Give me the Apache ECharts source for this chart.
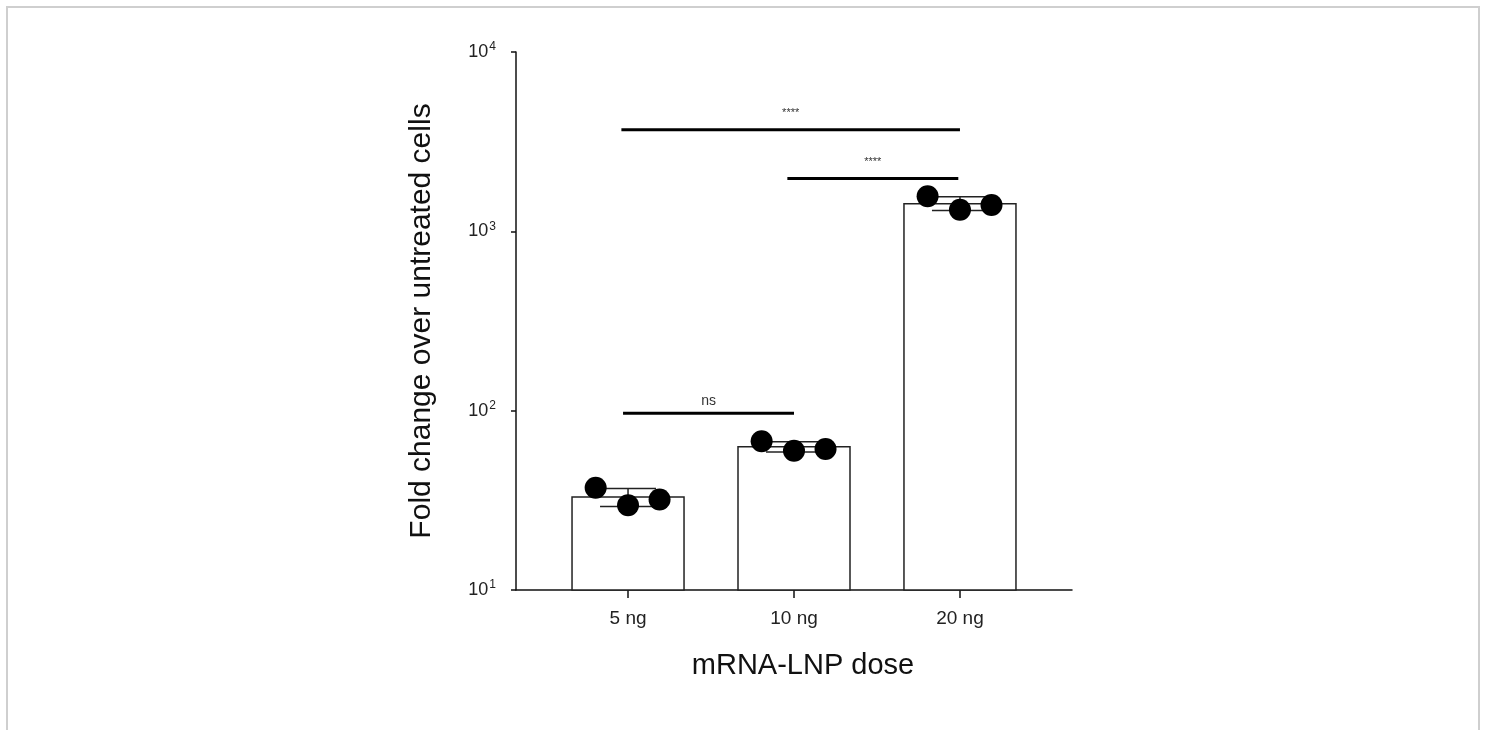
<!DOCTYPE html>
<html>
<head>
<meta charset="utf-8">
<script src="https://cdn.jsdelivr.net/npm/echarts@6/dist/echarts.min.js"></script>
<style>
    body { margin: 0; background: #fff; }
    #frame { position: absolute; left: 6px; top: 6px; width: 1470px; height: 760px; border: 2px solid #cfcfcf; }
    #main { position: absolute; left: 0; top: 0; width: 1485px; height: 730px; }
</style>
</head>
<body>
<div id="frame"></div>
<div id="main"></div>
<script>
// groups on the x axis
let doses = ['5 ng', '10 ng', '20 ng'];
let dosePos = [1, 2, 3];
// bar heights (mean) and error bars (mean - SD, mean + SD)
let barMeans = [33, 63, 1425];
let errLow = [29.2, 58.8, 1305];
let errHigh = [36.8, 67.2, 1560];
// replicate points, shifted left/centre/right inside each bar
let pointOffsets = [-0.195, 0, 0.19];
let points5 = [37.2, 29.7, 32.0];
let points10 = [67.5, 59.8, 61.1];
let points20 = [1569, 1318, 1404];
// significance brackets
let sigFrom = [0.96, 1.96, 0.97];
let sigTo = [3, 2.99, 2];
let sigY = [3680, 1970, 96.7];
let sigText = ['****', '****', 'ns'];

let allPoints = [points5, points10, points20];
let scatterData = [];
allPoints.forEach((grp, i) => {
    grp.forEach((v, j) => {
        scatterData.push([dosePos[i] + pointOffsets[j], v]);
    });
});

let myChart = echarts.init(document.getElementById('main'));

let option = {
    backgroundColor: 'transparent',
    animation: false,
    grid: { left: 516, right: 413, top: 52, bottom: 140 },
    xAxis: {
        type: 'value',
        min: 0.325,
        max: 3.675,
        name: 'mRNA-LNP dose',
        nameLocation: 'middle',
        nameGap: 61,
        nameTextStyle: { fontSize: 29, color: '#111', fontFamily: 'Liberation Sans', padding: [0, 0, 0, 18] },
        axisLine: { lineStyle: { color: '#111', width: 1.5 } },
        axisTick: { customValues: dosePos, length: 8, lineStyle: { color: '#111', width: 1.5 } },
        axisLabel: {
            customValues: dosePos,
            formatter: v => doses[dosePos.indexOf(v)],
            fontSize: 19,
            color: '#222',
            fontFamily: 'Liberation Sans',
            margin: 19
        },
        splitLine: { show: false }
    },
    yAxis: {
        type: 'log',
        logBase: 10,
        min: 10,
        max: 10000,
        name: 'Fold change over untreated cells',
        nameLocation: 'middle',
        nameGap: 79,
        nameTextStyle: { fontSize: 30, color: '#111', fontFamily: 'Liberation Sans' },
        axisLine: { show: true, lineStyle: { color: '#111', width: 1.5 } },
        axisTick: { show: true, length: 5, lineStyle: { color: '#111', width: 1.5 } },
        minorTick: { show: false },
        splitLine: { show: false },
        axisLabel: {
            margin: 20,
            formatter: v => {
                let e = Math.round(Math.log10(v));
                return '{b|10}{s|' + e + '}';
            },
            rich: {
                b: { fontSize: 18, color: '#222', fontFamily: 'Liberation Sans' },
                s: { fontSize: 12, color: '#222', fontFamily: 'Liberation Sans', verticalAlign: 'top', padding: [0, 0, 10, 1] }
            }
        }
    },
    series: [
        {
            // bars
            type: 'custom',
            data: dosePos.map((p, i) => [p, barMeans[i]]),
            renderItem: function(params, api) {
                let top = api.coord([api.value(0), api.value(1)]);
                let base = api.coord([api.value(0), 10]);
                let w = 112;
                return {
                    type: 'rect',
                    shape: { x: top[0] - w / 2, y: top[1], width: w, height: base[1] - top[1] },
                    style: { fill: '#fff', stroke: '#222', lineWidth: 1.5 }
                };
            },
            z: 1
        },
        {
            // error bars
            type: 'custom',
            data: dosePos.map((p, i) => [p, errLow[i], errHigh[i]]),
            renderItem: function(params, api) {
                let lo = api.coord([api.value(0), api.value(1)]);
                let hi = api.coord([api.value(0), api.value(2)]);
                let hw = 28;
                let ls = { stroke: '#222', lineWidth: 1.5 };
                return {
                    type: 'group',
                    children: [
                        { type: 'line', shape: { x1: lo[0], y1: lo[1], x2: hi[0], y2: hi[1] }, style: ls },
                        { type: 'line', shape: { x1: lo[0] - hw, y1: lo[1], x2: lo[0] + hw, y2: lo[1] }, style: ls },
                        { type: 'line', shape: { x1: hi[0] - hw, y1: hi[1], x2: hi[0] + hw, y2: hi[1] }, style: ls }
                    ]
                };
            },
            z: 2
        },
        {
            // replicates
            type: 'scatter',
            data: scatterData,
            symbol: 'circle',
            symbolSize: 22,
            itemStyle: { color: '#000', opacity: 1 },
            z: 3
        },
        {
            // significance lines
            type: 'custom',
            data: sigY.map((y, i) => [sigFrom[i], sigTo[i], y, i]),
            renderItem: function(params, api) {
                let a = api.coord([api.value(0), api.value(2)]);
                let b = api.coord([api.value(1), api.value(2)]);
                let txt = sigText[api.value(3)];
                let isNs = txt === 'ns';
                return {
                    type: 'group',
                    children: [
                        { type: 'line', shape: { x1: a[0], y1: a[1], x2: b[0], y2: b[1] }, style: { stroke: '#000', lineWidth: 3 } },
                        {
                            type: 'text',
                            style: {
                                text: txt,
                                x: (a[0] + b[0]) / 2,
                                y: a[1] - (isNs ? 5 : 11),
                                align: 'center',
                                verticalAlign: 'bottom',
                                fill: '#333',
                                font: (isNs ? '14px' : '11px') + ' "Liberation Sans"'
                            }
                        }
                    ]
                };
            },
            z: 4
        }
    ]
};

myChart.setOption(option);
</script>
</body>
</html>
